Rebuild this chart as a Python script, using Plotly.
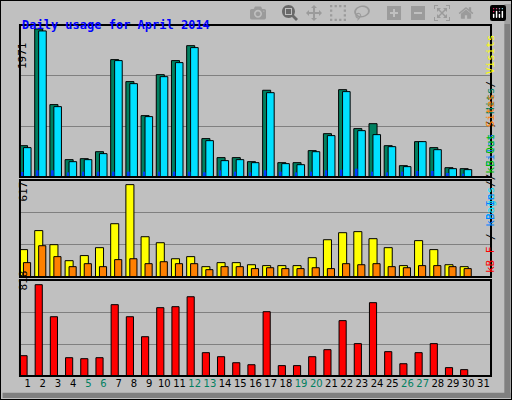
import plotly.graph_objects as go

days = list(range(1, 32))
hits = [417, 1971, 964, 231, 244, 337, 1563, 1270, 817, 1363, 1550, 1749, 511, 258, 258, 204,
        1155, 191, 191, 351, 577, 1163, 644, 710, 417, 151, 471, 391, 124, 111, 0]
files = [391, 1945, 937, 204, 231, 311, 1550, 1243, 804, 1336, 1523, 1723, 484, 218, 231, 191,
         1123, 178, 164, 337, 551, 1137, 617, 564, 404, 138, 471, 364, 111, 98, 0]
pages = [67, 89, 89, 62, 71, 71, 71, 71, 71, 71, 71, 71, 62, 89, 71, 62,
         89, 71, 62, 71, 89, 98, 111, 71, 62, 71, 80, 80, 53, 44, 0]
visits = [183, 310, 216, 109, 143, 196, 356, 617, 269, 229, 122, 136, 69, 96, 96, 82,
          76, 76, 76, 129, 249, 296, 303, 256, 196, 76, 243, 183, 82, 69, 0]
sites = [96, 209, 136, 69, 89, 69, 116, 122, 89, 102, 89, 89, 49, 69, 69, 56,
         62, 56, 56, 62, 56, 89, 82, 89, 69, 62, 76, 76, 69, 56, 0]
kbytes = [182, 818, 531, 164, 155, 164, 639, 531, 352, 612, 621, 710, 209, 173, 119, 101,
          576, 93, 93, 173, 236, 496, 290, 657, 218, 110, 209, 290, 75, 57, 0]
weekend = [5, 6, 12, 13, 19, 20, 26, 27]

BG = "#C0C0C0"
FONT = "DejaVu Sans Mono"
line = dict(color="black", width=1)

fig = go.Figure()
fig.add_bar(x=days, y=hits, width=0.53, offset=-0.53, marker=dict(color="#008060", line=line), xaxis="x", yaxis="y")
fig.add_bar(x=days, y=files, width=0.5, offset=-0.27, marker=dict(color="#00E0FF", line=line), xaxis="x", yaxis="y")
fig.add_bar(x=days, y=pages, width=0.12, offset=-0.4, marker=dict(color="#0040FF", line=dict(width=0)), xaxis="x", yaxis="y")
fig.add_bar(x=days, y=visits, width=0.53, offset=-0.53, marker=dict(color="#FFFF00", line=line), xaxis="x2", yaxis="y2")
fig.add_bar(x=days, y=sites, width=0.47, offset=-0.27, marker=dict(color="#FF8000", line=line), xaxis="x2", yaxis="y2")
fig.add_bar(x=days, y=kbytes, width=0.47, offset=-0.5, marker=dict(color="#FF0000", line=line), xaxis="x3", yaxis="y3")

ranges = {"y": 2024, "y2": 648, "y3": 860}
domains = {"y": [0.5575, 0.9375], "y2": [0.3075, 0.55], "y3": [0.06, 0.30]}
ticktext = [f"<span style='color:#008060'>{d}</span>" if d in weekend else str(d) for d in days]

layout = dict(
    width=512, height=400, margin=dict(l=0, r=0, t=0, b=0),
    paper_bgcolor=BG, plot_bgcolor=BG, showlegend=False, barmode="overlay",
    font=dict(family=FONT, size=11, color="black"),
)
for i, ax in enumerate(["y", "y2", "y3"]):
    xk = "xaxis" + ("" if i == 0 else str(i + 1))
    yk = "yaxis" + ("" if i == 0 else str(i + 1))
    r = ranges[ax]
    layout[xk] = dict(domain=[0.039, 0.959], range=[0.5, 31.5], showgrid=False, zeroline=False,
                      anchor=ax, showticklabels=(i == 2), ticks="", tickangle=0,
                      tickvals=days, ticktext=ticktext, tickfont=dict(family="DejaVu Sans", size=10))
    layout[yk] = dict(domain=domains[ax], range=[0, r], tickvals=[r / 3, 2 * r / 3],
                      showticklabels=False, gridcolor="#808080", gridwidth=1, zeroline=False,
                      anchor="x" if i == 0 else "x" + str(i + 1))
fig.update_layout(**layout)

shapes = []
for ax in ["y", "y2", "y3"]:
    d = domains[ax]
    shapes.append(dict(type="rect", xref="paper", yref="paper", x0=0.039, x1=0.959, y0=d[0], y1=d[1],
                       line=dict(color="black", width=2)))
shapes.append(dict(type="rect", xref="paper", yref="paper", x0=0.985, x1=0.997, y0=0.005, y1=0.99,
                   fillcolor="#808080", line=dict(width=0)))
shapes.append(dict(type="rect", xref="paper", yref="paper", x0=0.005, x1=0.997, y0=0.005, y1=0.018,
                   fillcolor="#808080", line=dict(width=0)))
shapes.append(dict(type="rect", xref="paper", yref="paper", x0=0, x1=1, y0=0, y1=1,
                   line=dict(color="black", width=2)))
fig.update_layout(shapes=shapes)

ann = [
    dict(text="<b>Daily usage for April 2014</b>", x=20 / 512, y=1 - 16 / 400, xanchor="left",
         font=dict(color="#0000FF", size=12, family=FONT)),
    dict(text="1971", x=14 / 512, y=1 - 40 / 400, textangle=-90),
    dict(text="617", x=14 / 512, y=1 - 192 / 400, textangle=-90),
    dict(text="818", x=14 / 512, y=1 - 293 / 400, textangle=-90),
    dict(text="<span style='color:#00E0FF'>Pages</span> / <span style='color:#0080FF'>Files</span> / "
              "<span style='color:#008060'>Hits</span>",
         x=499 / 512, y=1 - 85 / 400, textangle=-90),
    dict(text="<span style='color:#FF0000'>kB F</span> / <span style='color:#0080FF'>kB In</span> / "
              "<span style='color:#00C000'>kB Out</span> <span style='color:#FF8000'>Sites</span> / "
              "<span style='color:#FFFF00'>Visits</span>",
         x=499 / 512, y=1 - 275 / 400, textangle=-90),
]
for a in ann:
    a.setdefault("font", dict(family=FONT, size=11))
    a.update(xref="paper", yref="paper", showarrow=False)
fig.update_layout(annotations=ann)

fig.write_html("out.html", post_script="document.body.style.margin='0';")
